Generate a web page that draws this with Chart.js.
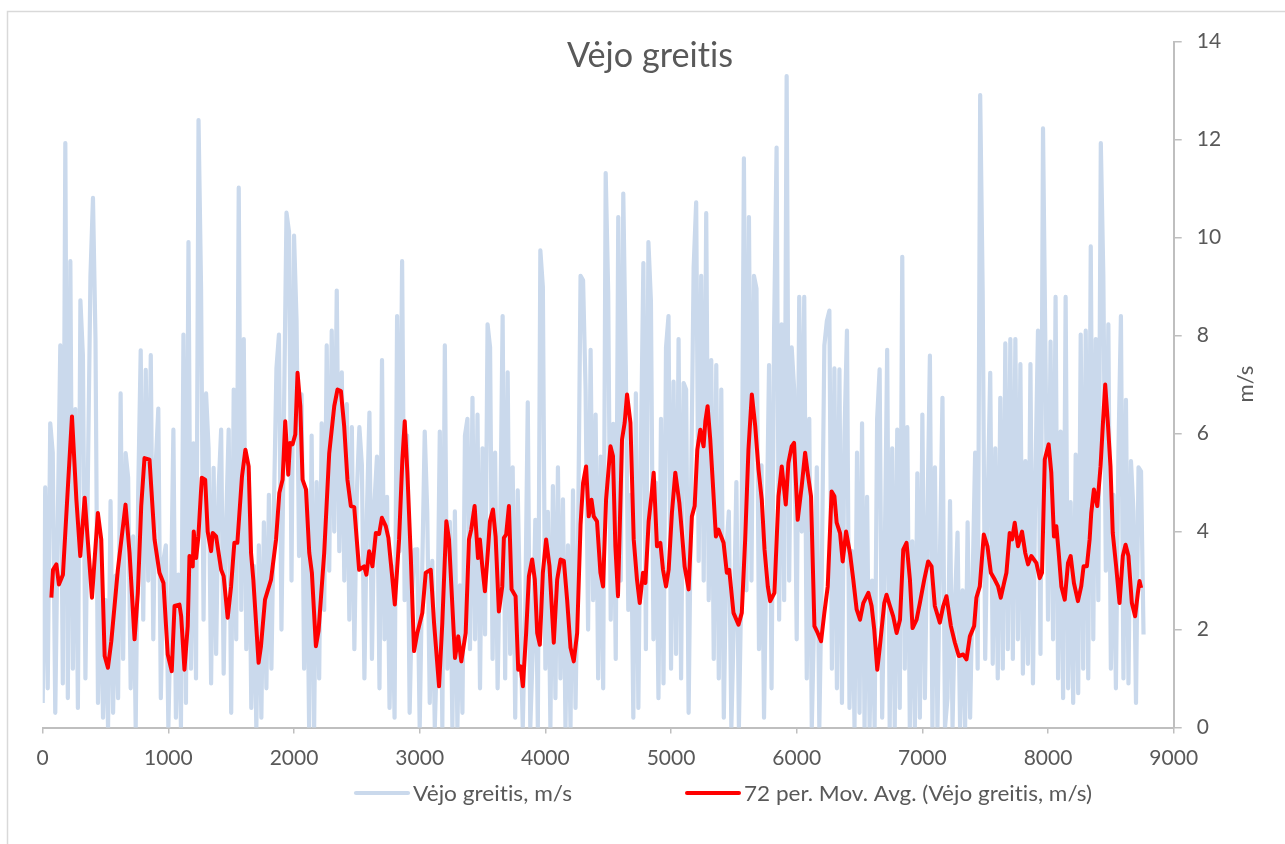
<!DOCTYPE html>
<html>
<head>
<meta charset="utf-8">
<script src="https://cdn.jsdelivr.net/npm/chart.js@4.4.1/dist/chart.umd.min.js"></script>
<style>
  html, body { margin: 0; padding: 0; background: #ffffff; }
  canvas { display: block; }
</style>
</head>
<body>
<canvas id="chart" width="1285" height="844"></canvas>
<script>
// ---------------- DATA ----------------
const chartTitle = 'Vėjo greitis';
const yAxisTitle = 'm/s';
const seriesNames = ['Vėjo greitis, m/s', '72 per. Mov. Avg. (Vėjo greitis, m/s)'];

const xTickValues = [0, 1000, 2000, 3000, 4000, 5000, 6000, 7000, 8000, 9000];
const yTickValues = [0, 2, 4, 6, 8, 10, 12, 14];

const windStepHours = 20;
const windSpeed = [
  0.5,4.9,0.8,6.21,5.61,0.3,4.2,7.8,0.9,11.93,0.6,9.52,1.2,6.5,0.4,8.72,7.59,1.0,5.2,9.22,
  10.81,7.93,0.5,3.8,0.2,2.6,0.0,4.62,0.3,3.1,0.6,6.82,1.4,5.6,5.1,0.8,3.9,0.0,4.8,7.7,
  2.2,7.3,3.0,7.6,1.8,5.4,6.51,0.6,3.4,3.72,0.0,2.5,6.08,0.2,3.12,0.0,8.02,0.5,9.91,1.2,
  5.8,1.0,12.4,9.0,2.2,6.82,5.7,0.9,5.3,1.5,4.9,6.08,1.1,4.2,6.08,0.3,6.9,1.8,11.02,2.4,
  7.93,1.6,5.19,0.4,3.3,0.0,3.72,0.2,4.19,0.8,4.75,1.2,4.5,7.33,8.02,2.0,6.4,10.51,10.12,3.0,
  10.04,8.3,3.5,6.8,1.2,4.84,0.0,5.96,0.0,5.01,1.0,6.21,2.4,7.8,3.2,8.1,4.0,8.92,3.6,7.25,
  3.0,6.6,2.2,6.13,1.6,4.8,6.13,5.35,1.0,4.4,6.43,1.4,4.6,5.53,0.8,7.5,1.8,4.71,0.4,3.29,
  0.2,8.4,3.6,9.52,2.6,5.96,0.3,2.8,3.63,3.64,0.0,3.2,6.04,4.41,0.5,3.4,0.0,1.8,6.04,0.0,
  7.8,1.2,4.2,0.0,4.41,0.0,2.9,0.3,5.96,6.3,1.6,6.73,1.8,6.39,0.8,5.7,1.9,8.23,7.76,1.4,
  5.61,0.8,3.9,8.4,1.0,7.25,1.5,5.31,0.2,4.84,2.26,0.0,2.4,6.64,0.0,1.6,4.24,0.0,9.74,9.0,
  1.2,4.4,0.0,4.93,0.6,5.31,1.0,4.66,0.0,3.72,0.0,4.84,0.4,3.8,9.22,9.13,6.9,2.0,7.71,2.6,
  6.39,1.0,5.53,0.8,11.32,8.88,2.2,6.2,1.4,10.42,3.0,10.9,7.4,2.4,4.75,0.2,6.82,0.4,5.61,9.48,
  1.6,9.91,8.7,1.8,5.0,0.6,6.3,0.9,7.76,8.4,1.2,7.06,1.5,7.93,1.0,7.03,6.9,0.3,4.9,9.4,
  10.72,3.4,9.22,3.0,10.5,2.6,7.5,1.4,7.4,1.0,6.9,0.2,3.6,4.41,0.0,2.2,5.01,0.0,3.0,11.62,
  2.8,10.42,3.0,9.22,8.96,1.6,5.35,0.2,3.8,7.4,0.8,8.1,11.84,2.2,8.23,2.6,13.3,3.0,7.76,6.9,
  1.8,8.79,4.0,8.79,1.0,6.3,0.0,2.4,5.31,0.0,3.2,7.8,8.3,8.51,1.2,7.33,0.8,7.31,0.5,5.96,
  8.1,0.4,3.6,0.0,5.61,0.3,6.21,0.0,4.71,0.0,3.0,0.0,6.3,7.31,0.2,3.4,7.71,0.0,5.7,0.0,
  6.08,0.4,9.61,1.2,6.13,0.0,3.8,0.0,5.19,0.2,6.39,0.6,4.2,7.59,0.0,5.31,0.0,3.5,6.73,0.0,
  0.6,4.62,0.0,2.6,3.98,0.0,2.8,0.0,4.19,0.2,3.0,5.61,1.2,12.91,8.88,1.4,4.6,7.24,1.3,5.7,
  1.0,6.73,1.2,7.84,1.6,7.93,1.4,7.93,1.8,7.42,1.1,5.44,1.3,7.42,0.9,5.19,8.1,1.5,12.23,7.5,
  2.2,7.88,1.8,8.79,1.0,6.04,0.6,8.79,0.8,4.6,0.5,5.57,0.7,8.02,1.2,8.1,1.0,9.82,1.8,7.93,
  2.6,11.93,9.22,3.2,8.23,1.2,4.75,0.8,5.61,8.4,1.0,6.69,0.9,5.44,4.41,0.5,5.31,5.23,1.9
];

// 72 period moving average (hour, value)
const movAvgHours = [
  69,82,109,129,161,201,233,268,299,334,392,439,466,493,519,546,598,659,691,731,
  757,784,810,850,890,929,961,995,1027,1049,1088,1102,1128,1154,1168,1194,1202,1221,1239,1266,
  1293,1313,1340,1353,1380,1420,1440,1472,1499,1525,1549,1586,1613,1639,1658,1676,1718,1737,1769,1817,
  1857,1883,1909,1930,1954,1968,1988,2010,2028,2050,2068,2095,2121,2142,2174,2195,2240,2280,2320,2346,
  2373,2399,2425,2452,2479,2518,2558,2576,2598,2624,2651,2677,2699,2730,2751,2778,2802,2836,2862,2881,
  2902,2929,2955,2981,3021,3048,3088,3114,3154,3180,3212,3233,3260,3281,3307,3331,3366,3392,3410,3437,
  3464,3479,3498,3519,3538,3559,3583,3604,3630,3657,3670,3688,3710,3731,3763,3784,3803,3821,3847,3869,
  3895,3916,3935,3956,3980,4006,4033,4067,4094,4121,4147,4173,4200,4226,4253,4280,4300,4324,4345,4367,
  4385,4411,4438,4459,4483,4518,4538,4557,4578,4610,4631,4650,4677,4703,4729,4751,4777,4796,4822,4844,
  4862,4888,4915,4936,4960,4981,5007,5034,5066,5087,5108,5140,5166,5188,5209,5233,5259,5273,5291,5312,
  5331,5357,5378,5418,5444,5463,5497,5537,5563,5590,5616,5643,5670,5696,5722,5744,5770,5789,5823,5855,
  5881,5913,5934,5960,5979,6008,6040,6067,6087,6114,6141,6167,6194,6220,6247,6278,6300,6318,6345,6366,
  6393,6424,6450,6477,6504,6530,6570,6596,6617,6641,6662,6697,6715,6742,6768,6795,6822,6848,6874,6901,
  6922,6954,6980,7015,7046,7073,7099,7139,7166,7192,7227,7259,7290,7325,7351,7378,7412,7430,7457,7489,
  7518,7545,7576,7603,7624,7650,7669,7695,7714,7735,7761,7793,7819,7841,7867,7907,7934,7952,7974,8005,
  8026,8047,8066,8085,8106,8133,8159,8180,8206,8238,8264,8283,8309,8331,8344,8365,8392,8418,8437,8455,
  8476,8497,8515,8542,8569,8595,8617,8640,8667,8693,8715,8728,8741
];
const movAvgValues = [
  2.65,3.22,3.33,2.92,3.12,4.93,6.35,4.65,3.5,4.69,2.65,4.38,3.84,1.46,1.22,1.76,3.22,4.55,3.57,1.8,
  2.75,4.52,5.5,5.47,3.84,3.16,2.95,1.49,1.15,2.48,2.51,2.27,1.18,2.07,3.5,3.29,4.0,3.46,3.9,5.1,
  5.06,4.0,3.6,3.97,3.9,3.22,3.09,2.24,2.88,3.77,3.77,5.13,5.67,5.33,3.56,3.02,1.32,1.66,2.61,3.02,
  3.84,4.79,5.06,6.25,5.16,5.81,5.78,5.98,7.24,6.56,5.06,4.86,3.57,3.16,1.66,1.97,3.56,5.6,6.56,6.9,
  6.87,6.15,5.06,4.52,4.5,3.22,3.29,3.12,3.6,3.29,3.97,3.95,4.28,4.11,3.87,3.16,2.51,3.84,5.47,6.25,
  5.2,3.5,1.56,1.93,2.34,3.16,3.22,2.14,0.84,2.14,4.21,3.84,2.48,1.42,1.86,1.35,1.93,3.84,4.04,4.52,
  3.46,3.84,3.29,2.78,3.43,4.21,4.45,3.9,2.37,2.88,3.87,3.94,4.52,2.82,2.68,1.18,1.25,0.84,1.93,3.09,
  3.43,3.02,1.93,1.69,3.16,3.84,3.29,1.73,3.02,3.43,3.4,2.61,1.63,1.35,1.93,4.14,4.99,5.33,4.31,4.65,
  4.31,4.21,3.16,2.88,4.65,5.74,5.54,3.7,2.68,5.88,6.22,6.8,6.22,3.84,3.02,2.54,3.16,2.95,4.21,4.72,
  5.2,3.7,3.77,3.22,2.88,3.22,4.38,5.2,4.59,3.97,3.29,2.82,4.31,4.52,5.67,6.08,5.74,6.25,6.56,5.88,
  5.06,3.9,4.04,3.77,3.16,3.22,2.34,2.1,2.34,3.84,5.67,6.8,6.15,5.27,4.65,3.63,2.88,2.58,2.75,4.72,
  5.33,4.55,5.4,5.74,5.81,4.24,4.93,5.61,5.2,4.72,2.07,1.93,1.76,2.34,2.88,4.82,4.72,4.18,3.97,3.39,
  4.0,3.56,3.02,2.41,2.2,2.54,2.75,2.48,2.0,1.18,1.66,2.54,2.71,2.48,2.27,1.93,2.2,3.63,3.77,3.02,
  2.03,2.2,2.54,3.02,3.39,3.29,2.48,2.14,2.48,2.68,2.07,1.73,1.46,1.49,1.39,1.86,2.07,2.65,2.88,3.94,
  3.7,3.16,3.02,2.88,2.65,2.95,3.16,3.97,3.84,4.18,3.7,4.0,3.56,3.33,3.5,3.36,3.05,3.16,5.47,5.78,
  5.2,3.9,4.11,3.56,2.88,2.61,3.36,3.5,2.95,2.58,2.88,3.29,3.29,3.84,4.38,4.86,4.52,5.33,6.22,7.0,
  6.22,5.33,3.97,3.29,2.54,3.5,3.73,3.5,2.54,2.27,2.75,2.99,2.85
];

// ---------------- STYLE ----------------
const textColor = '#595959';
const axisColor = '#bfbfbf';
const fontFamily = 'Lato, "Open Sans", sans-serif';

const windPoints = windSpeed.map((v, i) => ({ x: i * windStepHours, y: v }));
const maPoints = movAvgHours.map((h, i) => ({ x: h, y: movAvgValues[i] }));

function drawFittedText(ctx, text, x, y, targetWidth) {
  if ('letterSpacing' in ctx) ctx.letterSpacing = '0.01px';
  const w = ctx.measureText(text).width;
  const sx = targetWidth / w;
  ctx.save();
  ctx.translate(x, y);
  ctx.scale(sx, 1);
  ctx.fillText(text, 0, 0);
  ctx.restore();
}

const decorPlugin = {
  id: 'decor',
  beforeDraw(chart) {
    const ctx = chart.ctx;
    ctx.save();
    ctx.fillStyle = '#ffffff';
    ctx.fillRect(0, 0, chart.width, chart.height);
    ctx.restore();
  },
  afterDraw(chart) {
    const ctx = chart.ctx;
    ctx.save();
    // chart frame
    ctx.strokeStyle = '#d9d9d9';
    ctx.lineWidth = 1.5;
    ctx.strokeRect(7.5, 11.5, 1300, 850);

    // title
    ctx.fillStyle = textColor;
    ctx.font = '34px ' + fontFamily;
    ctx.textAlign = 'left';
    ctx.textBaseline = 'alphabetic';
    drawFittedText(ctx, chartTitle, 567, 67, 166);

    // y axis title (rotated)
    ctx.save();
    ctx.translate(1246, 384);
    ctx.rotate(-Math.PI / 2);
    ctx.font = '22px ' + fontFamily;
    ctx.textAlign = 'center';
    ctx.textBaseline = 'middle';
    ctx.fillText(yAxisTitle, 0, 0);
    ctx.restore();

    // legend
    const ds = chart.data.datasets;
    const items = [
      { x0: 356, x1: 408, tx: 413, tw: 159, d: ds[0] },
      { x0: 687, x1: 739, tx: 744, tw: 348, d: ds[1] }
    ];
    const ly = 793;
    items.forEach(it => {
      ctx.beginPath();
      ctx.strokeStyle = it.d.borderColor;
      ctx.lineWidth = it.d.borderWidth;
      ctx.lineCap = 'round';
      ctx.moveTo(it.x0, ly);
      ctx.lineTo(it.x1, ly);
      ctx.stroke();
      ctx.fillStyle = textColor;
      ctx.font = '21px ' + fontFamily;
      ctx.textAlign = 'left';
      ctx.textBaseline = 'middle';
      drawFittedText(ctx, it.d.label, it.tx, ly + 1, it.tw);
    });
    ctx.restore();
  }
};

new Chart(document.getElementById('chart'), {
  type: 'line',
  data: {
    datasets: [
      {
        label: seriesNames[0],
        data: windPoints,
        borderColor: '#CAD9EC',
        backgroundColor: '#CAD9EC',
        borderWidth: 4.2,
        borderJoinStyle: 'round',
        pointRadius: 0,
        tension: 0,
        fill: false,
        order: 1
      },
      {
        label: seriesNames[1],
        data: maPoints,
        borderColor: '#FF0000',
        backgroundColor: '#FF0000',
        borderWidth: 4,
        pointRadius: 0,
        tension: 0,
        fill: false,
        borderJoinStyle: 'round',
        order: 0
      }
    ]
  },
  options: {
    responsive: false,
    devicePixelRatio: 1,
    animation: false,
    events: [],
    layout: { padding: { left: 42.7, right: 10, top: 41.7, bottom: 76.5 } },
    plugins: {
      legend: { display: false },
      title: { display: false },
      tooltip: { enabled: false }
    },
    scales: {
      x: {
        type: 'linear',
        position: 'bottom',
        min: 0,
        max: 9000,
        afterBuildTicks: s => { s.ticks = xTickValues.map(v => ({ value: v })); },
        afterFit: s => { s.height = 40; },
        grid: { display: true, drawOnChartArea: false, drawTicks: true, tickLength: 6, color: axisColor, lineWidth: 1.5 },
        border: { display: true, color: axisColor, width: 2 },
        ticks: {
          color: textColor, font: { family: fontFamily, size: 21 }, padding: 12, maxRotation: 0, autoSkip: false,
          callback: v => String(v)
        }
      },
      y: {
        type: 'linear',
        position: 'right',
        min: 0,
        max: 14,
        afterBuildTicks: s => { s.ticks = yTickValues.map(v => ({ value: v })); },
        afterFit: s => { s.width = 101.3; },
        grid: { display: true, drawOnChartArea: false, drawTicks: true, tickLength: 8, color: axisColor, lineWidth: 1.5 },
        border: { display: true, color: axisColor, width: 2 },
        ticks: { color: textColor, font: { family: fontFamily, size: 21 }, padding: 15, callback: v => String(v) }
      }
    }
  },
  plugins: [decorPlugin]
});
</script>
</body>
</html>
